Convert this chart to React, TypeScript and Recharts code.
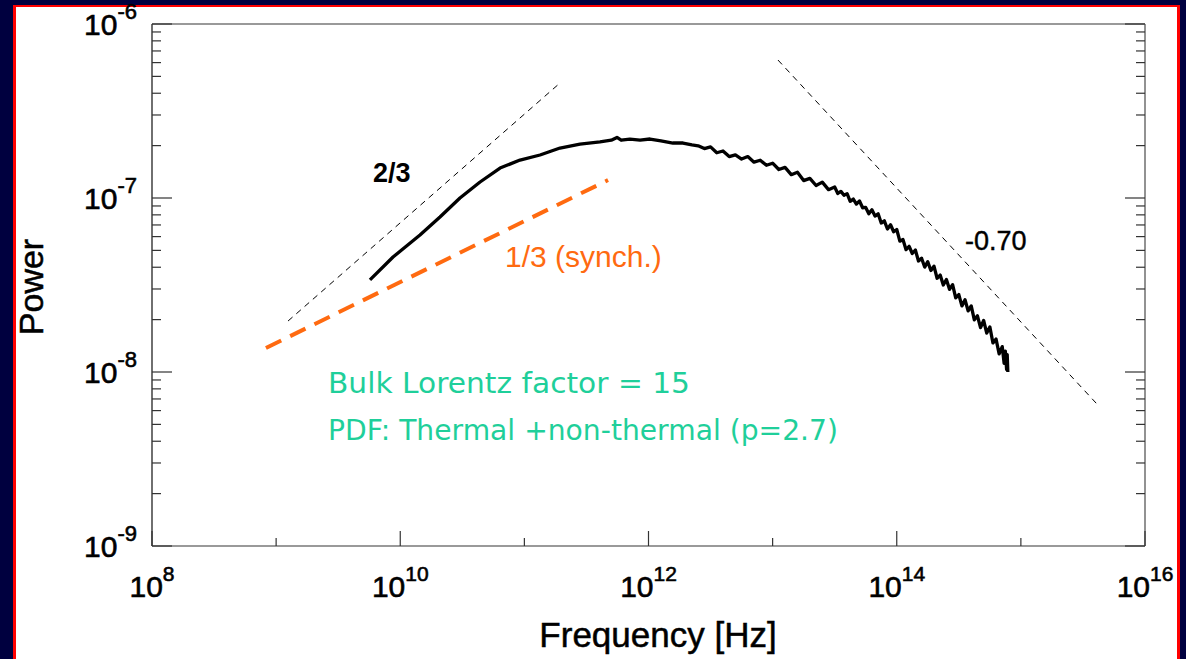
import React from 'react';
import { LineChart, Line, XAxis, YAxis } from 'recharts';

// Axes (values are log10 of the quantity)
const xDecades = [8, 9, 10, 11, 12, 13, 14, 15, 16];
const xLabelDecades = [8, 10, 12, 14, 16];
const yDecades = [-9, -8, -7, -6];
const minorMultipliers = [2, 3, 4, 5, 6, 7, 8, 9];

// Main spectrum: log10(Frequency [Hz]) and log10(Power)
const mainLogFreq = [
  9.756, 9.942, 10.159, 10.32, 10.481, 10.643, 10.804, 10.965, 11.126, 11.287,
  11.448, 11.609, 11.7, 11.746, 11.78, 11.85, 11.932, 12.012, 12.1, 12.197,
  12.278, 12.35, 12.4, 12.45, 12.5, 12.55, 12.6, 12.65, 12.7, 12.75,
  12.8, 12.85, 12.9, 12.95, 13.0, 13.05, 13.1, 13.15, 13.2, 13.25,
  13.3, 13.35, 13.4, 13.45, 13.5, 13.525, 13.55, 13.575, 13.6, 13.625,
  13.65, 13.675, 13.7, 13.725, 13.75, 13.775, 13.8, 13.825, 13.85, 13.875,
  13.9, 13.925, 13.95, 13.975, 14.0, 14.025, 14.05, 14.075, 14.1, 14.125,
  14.15, 14.175, 14.2, 14.225, 14.25, 14.275, 14.3, 14.325, 14.35, 14.375,
  14.4, 14.425, 14.45, 14.475, 14.5, 14.525, 14.55, 14.575, 14.6, 14.625,
  14.65, 14.675, 14.7, 14.725, 14.75, 14.775, 14.8, 14.825, 14.85, 14.865,
  14.875, 14.885, 14.89, 14.895,
];
const mainLogPower = [
  -7.471, -7.339, -7.213, -7.109, -7.0, -6.908, -6.828, -6.782, -6.753, -6.713,
  -6.69, -6.678, -6.668, -6.652, -6.668, -6.662, -6.667, -6.661, -6.672, -6.684,
  -6.684, -6.695, -6.7, -6.716, -6.706, -6.74, -6.73, -6.762, -6.752, -6.776,
  -6.762, -6.794, -6.783, -6.812, -6.8, -6.836, -6.824, -6.866, -6.852, -6.9,
  -6.887, -6.928, -6.909, -6.952, -6.937, -6.974, -6.962, -6.984, -6.975, -7.019,
  -7.006, -7.035, -7.017, -7.056, -7.054, -7.09, -7.068, -7.104, -7.091, -7.144,
  -7.131, -7.178, -7.154, -7.194, -7.181, -7.248, -7.239, -7.297, -7.278, -7.319,
  -7.299, -7.362, -7.346, -7.397, -7.366, -7.417, -7.392, -7.461, -7.443, -7.5,
  -7.468, -7.525, -7.498, -7.574, -7.555, -7.62, -7.585, -7.649, -7.62, -7.7,
  -7.677, -7.745, -7.704, -7.776, -7.741, -7.833, -7.811, -7.896, -7.854, -7.95,
  -7.88, -7.985, -7.9, -8.0,
];

// Reference slopes
const slope23LogFreq = [9.096, 11.287];
const slope23LogPower = [-7.707, -6.339];
const synchLogFreq = [8.918, 11.674];
const synchLogPower = [-7.862, -6.897];
const slope070LogFreq = [13.043, 15.613];
const slope070LogPower = [-6.207, -8.184];

const toRows = (xs: number[], ys: number[]) => xs.map((x, i) => ({ x, y: ys[i] }));
const mainRows = toRows(mainLogFreq, mainLogPower);
const slope23Rows = toRows(slope23LogFreq, slope23LogPower);
const synchRows = toRows(synchLogFreq, synchLogPower);
const slope070Rows = toRows(slope070LogFreq, slope070LogPower);

const yTicks: number[] = [];
yDecades.forEach((d) => {
  yTicks.push(d);
  if (d < -6) minorMultipliers.forEach((m) => yTicks.push(d + Math.log10(m)));
});

const FONT = '"Liberation Sans", Arial, Helvetica, sans-serif';
const isMajor = (v: number) => Math.abs(v - Math.round(v)) < 1e-6;

const LeftYTick = (props: any) => {
  const { x, y, payload } = props;
  const v = payload.value;
  const major = isMajor(v);
  return (
    <g>
      <line x1={x} x2={x + (major ? 20 : 9)} y1={y} y2={y} stroke="#333" strokeWidth={1.2} />
      {major && (
        <text
          x={x - 15}
          y={y + 11}
          textAnchor="end"
          fontFamily={FONT}
          fontSize={30}
          fill="#000"
          stroke="#000"
          strokeWidth={0.6}
        >
          10<tspan fontSize={22} dy={-16}>{String(Math.round(v))}</tspan>
        </text>
      )}
    </g>
  );
};

const RightYTick = (props: any) => {
  const { x, y, payload } = props;
  const major = isMajor(payload.value);
  return <line x1={x} x2={x - (major ? 20 : 9)} y1={y} y2={y} stroke="#333" strokeWidth={1.2} />;
};

const BottomXTick = (props: any) => {
  const { x, y, payload } = props;
  const v = Math.round(payload.value);
  const labeled = xLabelDecades.includes(v);
  return (
    <g>
      <line x1={x} x2={x} y1={y} y2={y - (labeled ? 15 : 8)} stroke="#333" strokeWidth={1.2} />
      {labeled && (
        <text
          x={x}
          y={y + 51}
          textAnchor="middle"
          fontFamily={FONT}
          fontSize={30}
          fill="#000"
          stroke="#000"
          strokeWidth={0.6}
        >
          10<tspan fontSize={21} dy={-16}>{String(v)}</tspan>
        </text>
      )}
    </g>
  );
};

export default function App() {
  return (
    <div
      style={{
        position: 'absolute',
        left: 0,
        top: 0,
        width: 1186,
        height: 659,
        overflow: 'hidden',
        background: '#00003f',
      }}
    >
      <div
        style={{
          position: 'absolute',
          left: 13,
          top: 5,
          width: 1161,
          height: 720,
          borderLeft: '3px solid #ff0000',
          borderRight: '3px solid #ff0000',
          borderTop: '2px solid #ff0000',
          background: '#ffffff',
        }}
      />
      <div style={{ position: 'absolute', left: 0, top: 0 }}>
        <LineChart width={1186} height={659} margin={{ top: 14, right: 11, bottom: 53, left: 92 }}>
          <XAxis
            xAxisId="b"
            dataKey="x"
            type="number"
            domain={[8, 16]}
            ticks={xDecades}
            interval={0}
            height={60}
            tickSize={0}
            tickMargin={0}
            tickLine={false}
            axisLine={{ stroke: '#777', strokeWidth: 1.6 }}
            tick={<BottomXTick />}
            allowDataOverflow
          />
          <XAxis
            xAxisId="t"
            orientation="top"
            dataKey="x"
            type="number"
            domain={[8, 16]}
            height={10}
            tick={false}
            tickLine={false}
            axisLine={{ stroke: '#777', strokeWidth: 1.6 }}
            allowDataOverflow
          />
          <YAxis
            yAxisId="l"
            type="number"
            domain={[-9, -6]}
            ticks={yTicks}
            interval={0}
            width={60}
            tickSize={0}
            tickMargin={0}
            tickLine={false}
            axisLine={{ stroke: '#333', strokeWidth: 1.4 }}
            tick={<LeftYTick />}
            allowDataOverflow
          />
          <YAxis
            yAxisId="r"
            orientation="right"
            type="number"
            domain={[-9, -6]}
            ticks={yTicks}
            interval={0}
            width={30}
            tickSize={0}
            tickMargin={0}
            tickLine={false}
            axisLine={{ stroke: '#777', strokeWidth: 1.6 }}
            tick={<RightYTick />}
            allowDataOverflow
          />
          <Line
            xAxisId="b"
            yAxisId="l"
            data={slope23Rows}
            dataKey="y"
            type="linear"
            stroke="#000"
            strokeWidth={1}
            strokeDasharray="6 5"
            dot={false}
            isAnimationActive={false}
          />
          <Line
            xAxisId="b"
            yAxisId="l"
            data={slope070Rows}
            dataKey="y"
            type="linear"
            stroke="#000"
            strokeWidth={1}
            strokeDasharray="6 5"
            dot={false}
            isAnimationActive={false}
          />
          <Line
            xAxisId="b"
            yAxisId="l"
            data={synchRows}
            dataKey="y"
            type="linear"
            stroke="#ff6a10"
            strokeWidth={4}
            strokeDasharray="17 10"
            dot={false}
            isAnimationActive={false}
          />
          <Line
            xAxisId="b"
            yAxisId="l"
            data={mainRows}
            dataKey="y"
            type="linear"
            stroke="#000"
            strokeWidth={3.3}
            strokeLinejoin="round"
            dot={false}
            isAnimationActive={false}
          />
        </LineChart>
      </div>
      <svg
        width={1186}
        height={659}
        style={{ position: 'absolute', left: 0, top: 0, pointerEvents: 'none' }}
      >
        <text x={373} y={182} fontFamily={FONT} fontSize={27} fontWeight="bold" fill="#000">
          2/3
        </text>
        <text x={965} y={250} fontFamily={FONT} fontSize={27} fill="#000" stroke="#000" strokeWidth={0.4}>
          -0.70
        </text>
        <text x={505} y={267} fontFamily={FONT} fontSize={30} fill="#ff6a10">
          1/3 (synch.)
        </text>
        <text
          x={328}
          y={393}
          fontFamily='"DejaVu Sans", sans-serif'
          fontSize={29}
          fill="#1fcf9a"
          textLength={362}
          lengthAdjust="spacingAndGlyphs"
        >
          Bulk Lorentz factor = 15
        </text>
        <text
          x={328}
          y={440}
          fontFamily='"DejaVu Sans", sans-serif'
          fontSize={29}
          fill="#1fcf9a"
          textLength={510}
          lengthAdjust="spacingAndGlyphs"
        >
          PDF: Thermal +non-thermal (p=2.7)
        </text>
        <text
          x={43}
          y={287}
          transform="rotate(-90 43 287)"
          textAnchor="middle"
          fontFamily={FONT}
          fontSize={34}
          fill="#000"
          stroke="#000"
          strokeWidth={0.5}
        >
          Power
        </text>
        <text
          x={658}
          y={647}
          textAnchor="middle"
          fontFamily={FONT}
          fontSize={35}
          fill="#000"
          stroke="#000"
          strokeWidth={0.5}
        >
          Frequency [Hz]
        </text>
      </svg>
    </div>
  );
}
